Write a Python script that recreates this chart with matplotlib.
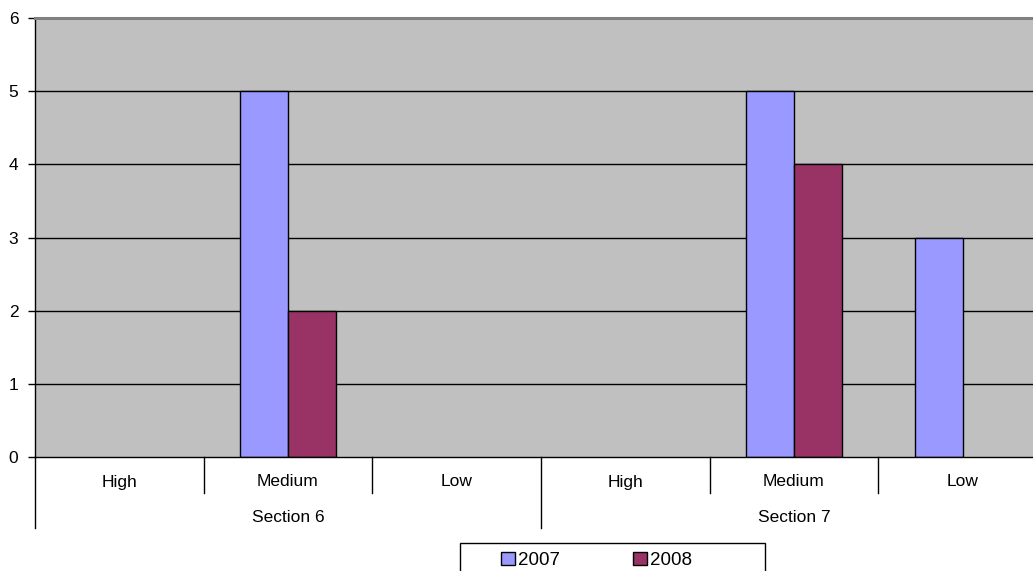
import matplotlib.pyplot as plt
import matplotlib.transforms as mtransforms
from matplotlib.patches import Rectangle
import numpy as np

plt.rcParams["font.family"] = ["Liberation Sans", "DejaVu Sans"]

# risk levels within each section
levels = ["High", "Medium", "Low", "High", "Medium", "Low"]
sections = ["Section 6", "Section 7"]
counts_2007 = [0, 5, 0, 0, 5, 3]
counts_2008 = [0, 2, 0, 0, 4, 0]

BLUE = "#9999FF"
PLUM = "#993366"

fig = plt.figure(figsize=(10.33, 5.71), dpi=100)
W, H = 1033, 571
# plot area runs a little past the right edge of the page
ax = fig.add_axes([35 / W, (H - 457) / H, (1047 - 35) / W, (457 - 18) / H])
ax.set_facecolor("#C0C0C0")

n = len(levels)
centers = np.arange(n) + 0.5
bw = 0.285
c07 = np.array(counts_2007)
c08 = np.array(counts_2008)
m07 = c07 > 0
m08 = c08 > 0
ax.bar(centers[m07] - bw, c07[m07], width=bw, align="edge", color=BLUE,
       edgecolor="black", linewidth=1.0, label="2007", zorder=3)
ax.bar(centers[m08], c08[m08], width=bw, align="edge", color=PLUM,
       edgecolor="black", linewidth=1.0, label="2008", zorder=3)

ax.set_xlim(0, n)
ax.set_ylim(0, 6)
ax.set_yticks(range(0, 7))
ax.tick_params(axis="y", length=5, width=1, labelsize=12.5, pad=7)
ax.set_xticks([])
for y in range(1, 6):
    ax.axhline(y, color="black", linewidth=1.0, zorder=1)

ax.spines["right"].set_visible(False)
ax.spines["top"].set_color("#808080")
ax.spines["top"].set_linewidth(2.2)
ax.spines["left"].set_linewidth(1.0)
ax.spines["bottom"].set_linewidth(1.0)
ax.spines["bottom"].set_zorder(4)

# two-level category axis
trans = mtransforms.blended_transform_factory(ax.transData, ax.transAxes)
px = 1 / (457 - 18)
for i, lab in enumerate(levels):
    ax.text(centers[i], -25 * px, lab, transform=trans, ha="center",
            va="center", fontsize=12.5)
for b in range(1, n):
    if b % 3 == 0:
        continue
    ax.plot([b, b], [0, -36 * px], transform=trans, color="black",
            linewidth=1.0, clip_on=False)
for b in (0, 3, 6):
    ax.plot([b, b], [0, -71 * px], transform=trans, color="black",
            linewidth=1.0, clip_on=False)
for k, sec in enumerate(sections):
    ax.text(3 * k + 1.5, -61 * px, sec, transform=trans, ha="center",
            va="center", fontsize=12.5)

# legend box, open at the bottom edge of the page
fig.patches.append(Rectangle((460 / W, -10 / H), 305 / W, (28 + 10) / H,
                             transform=fig.transFigure, facecolor="white",
                             edgecolor="black", linewidth=1.0))
leg = fig.legend(loc="upper left", bbox_to_anchor=(497 / W, 1 - 548 / H),
                 ncol=2, frameon=False, fontsize=13.5,
                 handlelength=0.75, handleheight=0.75, handletextpad=0.15,
                 columnspacing=3.9, borderpad=0.2, borderaxespad=0)

fig.savefig("out.png", dpi=100)
